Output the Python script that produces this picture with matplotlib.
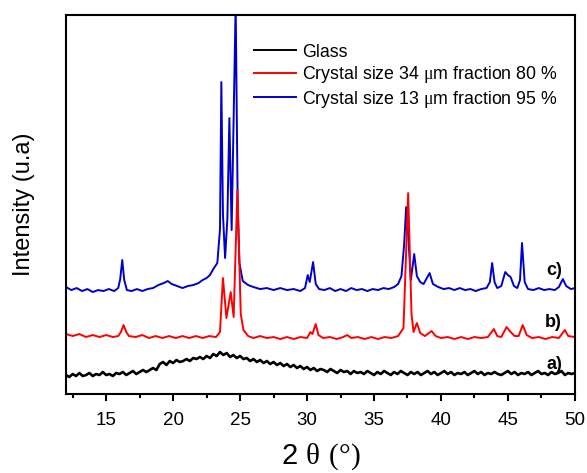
import numpy as np
import matplotlib
matplotlib.use('Agg')
import matplotlib.pyplot as plt
from matplotlib.lines import Line2D

plt.rcParams['font.family'] = ['Liberation Sans', 'DejaVu Sans']
plt.rcParams['mathtext.fontset'] = 'custom'
plt.rcParams['mathtext.rm'] = 'Liberation Serif'

# glass (a): sampled every 0.25 deg from 12 to 50
glass_x = np.arange(12, 50.01, 0.25)
glass_y = [19, 17, 20, 18, 21, 18, 19, 21,
           18, 20, 19, 22, 19, 20, 18, 21,
           20, 22, 19, 21, 23, 20, 22, 24,
           22, 24, 26, 24, 30, 32, 29, 33,
           31, 34, 32, 33, 35, 33, 36, 35,
           37, 35, 38, 36, 40, 38, 42, 39,
           41, 37, 39, 36, 38, 35, 36, 33,
           35, 32, 34, 31, 33, 30, 32, 29,
           31, 28, 30, 27, 29, 26, 28, 25,
           27, 24, 26, 23, 25, 24, 22, 25,
           23, 21, 24, 22, 23, 20, 23, 21,
           22, 20, 23, 21, 19, 22, 20, 23,
           21, 19, 22, 20, 23, 21, 19, 22,
           20, 22, 19, 21, 23, 20, 22, 19,
           21, 23, 20, 22, 19, 21, 20, 22,
           19, 21, 23, 20, 22, 19, 21, 20,
           22, 20, 19, 21, 23, 20, 22, 19,
           21, 20, 22, 19, 21, 23, 20, 21,
           19, 22, 20, 21, 23, 19, 21, 20,
           21]

# crystal 34 um (b)
red_x = [12.0, 12.5, 13.0, 13.5, 14.0, 14.5, 15.0, 15.5, 15.9, 16.1, 16.3, 16.5, 16.7,
         17.2, 17.7, 18.2, 18.7, 19.2, 19.7, 20.2, 20.7, 21.2, 21.7, 22.2, 22.7, 23.2,
         23.5, 23.72, 23.98, 24.3, 24.52, 24.8, 25.05, 25.25, 25.6, 26.0, 26.5, 27.0,
         27.5, 28.0, 28.5, 29.0, 29.5, 30.0, 30.25, 30.4, 30.65, 30.85, 31.2, 31.7,
         32.2, 32.7, 33.0, 33.3, 33.8, 34.3, 34.8, 35.3, 35.8, 36.3, 36.8, 37.2, 37.55,
         37.8, 37.95, 38.2, 38.45, 38.8, 39.3, 39.6, 40.0, 40.5, 41.0, 41.5, 42.0, 42.5,
         43.0, 43.5, 43.95, 44.2, 44.5, 44.9, 45.2, 45.5, 45.8, 46.1, 46.4, 46.8, 47.3,
         47.8, 48.3, 48.8, 49.25, 49.5, 50.0]
red_y = [60, 58, 60, 57, 59, 57, 59, 57, 58, 62, 69, 62, 58,
         57, 59, 56, 58, 56, 58, 56, 58, 56, 58, 56, 58, 57,
         62, 116, 76, 102, 77, 204, 80, 64, 58, 56, 58, 56,
         57, 55, 57, 55, 57, 56, 62, 60, 70, 59, 56, 57,
         55, 57, 59, 56, 57, 55, 57, 55, 57, 56, 58, 66, 201,
         80, 62, 71, 61, 58, 63, 58, 56, 57, 55, 57, 55, 57,
         56, 57, 65, 58, 57, 67, 62, 58, 58, 69, 59, 56, 57,
         55, 57, 56, 64, 58, 57]

# crystal 13 um (c)
blue_x = [12.0, 12.4, 12.8, 13.2, 13.6, 14.0, 14.4, 14.8, 15.2, 15.6, 15.9, 16.05, 16.2,
          16.35, 16.55, 16.9, 17.3, 17.7, 18.1, 18.5, 18.9, 19.3, 19.6, 19.9, 20.3, 20.7,
          21.1, 21.5, 21.9, 22.2, 22.5, 22.75, 23.0, 23.3, 23.5, 23.6, 23.72, 23.88, 24.05,
          24.2, 24.37, 24.67, 24.82, 24.95, 25.2, 25.6, 26.0, 26.5, 27.0, 27.5, 28.0,
          28.5, 29.0, 29.5, 29.85, 30.05, 30.2, 30.45, 30.65, 30.9, 31.3, 31.7, 32.1,
          32.5, 32.9, 33.3, 33.7, 34.1, 34.5, 34.9, 35.3, 35.7, 36.1, 36.5, 36.8, 37.05,
          37.25, 37.4, 37.55, 37.75, 38.0, 38.2, 38.45, 38.7, 39.15, 39.4, 39.8, 40.2,
          40.6, 41.0, 41.4, 41.8, 42.2, 42.6, 43.0, 43.4, 43.65, 43.82, 44.0, 44.2, 44.5,
          44.8, 45.0, 45.2, 45.45, 45.7, 45.9, 46.05, 46.25, 46.5, 46.9, 47.3, 47.7, 48.1,
          48.5, 48.8, 49.1, 49.35, 49.7, 50.0]
blue_y = [107, 104, 106, 103, 105, 102, 104, 103, 105, 103, 106, 115, 134,
          114, 104, 103, 105, 103, 105, 106, 109, 111, 113, 110, 108, 106,
          108, 109, 111, 114, 116, 119, 125, 131, 165, 312, 180, 136, 175,
          276, 164, 390, 190, 131, 113, 109, 107, 105, 106, 104, 106,
          104, 105, 103, 106, 119, 112, 132, 110, 105, 104, 106, 103,
          105, 103, 106, 104, 105, 103, 105, 104, 106, 105, 107, 110, 118,
          150, 187, 160, 114, 140, 118, 112, 110, 121, 110, 107, 105,
          106, 104, 106, 104, 105, 103, 105, 106, 112, 131, 112, 106, 108,
          122, 119, 117, 108, 106, 114, 151, 112, 105, 104, 106, 104, 105,
          104, 107, 115, 108, 105, 106]

labels = ['Glass', 'Crystal size 34 $\\mathrm{\\mu}$m fraction 80 %',
          'Crystal size 13 $\\mathrm{\\mu}$m fraction 95 %']
colors = ['black', '#ff0000', '#0000cc']
curve_tags = ['a)', 'b)', 'c)']
tag_y = [30, 72, 124]

fig = plt.figure(figsize=(5.87, 4.73), dpi=100)
ax = fig.add_axes([0.1124, 0.167, 0.867, 0.801])

ax.plot(glass_x, glass_y, color=colors[0], lw=1.9)
ax.plot(blue_x, blue_y, color=colors[2], lw=1.4)
ax.plot(red_x, red_y, color=colors[1], lw=1.4)

for tag, ty in zip(curve_tags, tag_y):
    ax.text(49.05, ty, tag, ha='right', va='center', fontsize=13, fontweight='bold')

handles = [Line2D([], [], color=c, lw=1.4) for c in colors]
ax.legend(handles, labels, loc='upper left', bbox_to_anchor=(0.369, 0.925),
          frameon=False, fontsize=12.8, handlelength=2.4, handletextpad=0.3,
          labelspacing=0.2, borderpad=0, borderaxespad=0)

ax.set_xlim(12, 50)
ax.set_ylim(0, 379)
ax.set_xticks([15, 20, 25, 30, 35, 40, 45, 50])
ax.set_xticks(np.arange(12.5, 50, 5), minor=True)
ax.set_yticks([])
ax.tick_params(axis='x', which='major', direction='out', length=5, width=1.5,
               labelsize=13.5, pad=8)
ax.tick_params(axis='x', which='minor', direction='out', length=3, width=1.5)
for s in ax.spines.values():
    s.set_linewidth(1.5)

ax.set_xlabel('2 $\\mathrm{\\theta\\ (°)}$', fontsize=21, labelpad=9)
ax.set_ylabel('Intensity (u.a)', fontsize=17, labelpad=22)

plt.savefig('out.png', dpi=100)
